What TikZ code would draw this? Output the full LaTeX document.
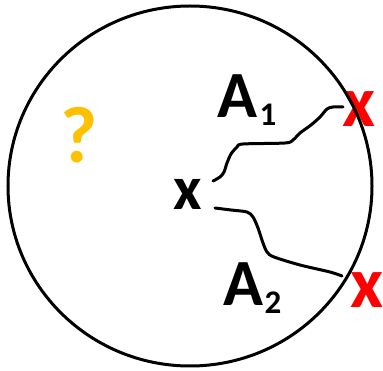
\documentclass[tikz,border=0pt]{standalone}
\usepackage{fontspec}
\setmainfont{Carlito}
\definecolor{qorange}{HTML}{FFC000}
\definecolor{xred}{HTML}{FF0000}
\begin{document}
\begin{tikzpicture}[x=1pt,y=-1pt,
  lbl/.style={inner sep=0pt,font=\bfseries\fontsize{66}{66}\selectfont},
  sub/.style={inner sep=0pt,font=\bfseries\fontsize{33}{33}\selectfont},
  cross/.style={inner sep=0pt,font=\bfseries\fontsize{62}{62}\selectfont},
  rcross/.style={inner sep=0pt,text=xred,font=\bfseries\fontsize{72}{72}\selectfont},
  walk/.style={line width=3pt,line cap=round,line join=round}]
\useasboundingbox (0,0) rectangle (383,371);
\node[cross] (c) at (188,194) {x};
\node[rcross] (e1) at (359.5,109.5) {x};
\node[rcross] (e2) at (367,290) {x};
\node[lbl] (a1) at (237.5,96) {A};
\node[sub] (s1) at (268,115) {1};
\node[lbl] (a2) at (243.5,284.5) {A};
\node[sub] (s2) at (273,303) {2};
\node[inner sep=0pt,text=qorange,font=\bfseries\fontsize{80}{80}\selectfont] (q) at (79.5,135.5) {?};
\draw[line width=3pt] (190,186) ellipse [x radius=182, y radius=180];
\draw[walk] plot[smooth,tension=0.5] coordinates {(213,181) (220,177) (224,172) (227,163) (231,154) (237,147) (243,144) (285,143) (293,140) (300,133) (311,125) (320,117) (327,109) (333,107) (343,107)};
\draw[walk] plot[smooth,tension=0.5] coordinates {(215,208) (231,210) (247,212) (253,217) (258,228) (263,243) (267,252) (274,257) (300,265) (330,272) (342,276)};
\end{tikzpicture}
\end{document}
